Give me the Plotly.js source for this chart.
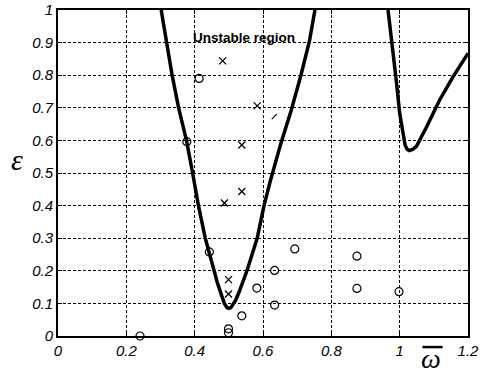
<!DOCTYPE html>
<html>
<head>
<meta charset="utf-8">
<script src="https://cdn.plot.ly/plotly-3.0.1.min.js"></script>
<style>html,body{margin:0;padding:0;background:#fff;}#chart{width:480px;height:374px;}</style>
</head>
<body>
<div id="chart"></div>
<script>
// Stability boundary curves
var curve1X = [0.302,0.318,0.334,0.353,0.376,0.394,0.411,0.431,0.455,0.466,0.477,0.487,0.494,0.500,0.506,0.512,0.520,0.530,0.553,0.583,0.603,0.620,0.652,0.682,0.711,0.736,0.752];
var curve1Y = [1.0,0.9,0.8,0.7,0.6,0.5,0.4,0.3,0.2,0.165,0.13,0.1,0.088,0.085,0.087,0.095,0.11,0.135,0.2,0.3,0.4,0.47,0.59,0.69,0.8,0.905,1.0];
var curve2X = [0.966,0.981,0.991,1.0,1.01,1.016,1.022,1.028,1.038,1.049,1.079,1.117,1.156,1.2];
var curve2Y = [1.0,0.877,0.775,0.683,0.611,0.585,0.573,0.569,0.572,0.582,0.642,0.724,0.795,0.867];
// Experimental points: stable (circles) and unstable (crosses)
var circleX = [0.24,0.377,0.413,0.443,0.499,0.499,0.538,0.582,0.634,0.634,0.693,0.875,0.875,0.998];
var circleY = [0.0,0.596,0.79,0.258,0.022,0.010,0.062,0.147,0.201,0.095,0.267,0.245,0.146,0.136];
var crossX = [0.482,0.583,0.538,0.538,0.487,0.499,0.499];
var crossY = [0.844,0.706,0.586,0.443,0.408,0.173,0.129];
var slashX = [0.633];
var slashY = [0.673];
var xTicks = [0,0.2,0.4,0.6,0.8,1,1.2];
var xTickText = ['0','0.2','0.4','0.6','0.8','1','1.2'];
var yTicks = [0,0.1,0.2,0.3,0.4,0.5,0.6,0.7,0.8,0.9,1];
var yTickText = ['0','0.1','0.2','0.3','0.4','0.5','0.6','0.7','0.8','0.9','1'];

var traces = [
  {x: curve1X, y: curve1Y, mode: 'lines', line: {color: '#000', width: 3.5, shape: 'linear'}, hoverinfo: 'skip'},
  {x: curve2X, y: curve2Y, mode: 'lines', line: {color: '#000', width: 3.5, shape: 'linear'}, hoverinfo: 'skip'},
  {x: circleX, y: circleY, mode: 'markers', cliponaxis: false, marker: {symbol: 'circle-open', size: 8, color: '#000', line: {width: 1.2, color: '#000'}}},
  {x: crossX, y: crossY, mode: 'markers', cliponaxis: false, marker: {symbol: 'x-thin-open', size: 7, color: '#000', line: {width: 1.3, color: '#000'}}},
  {x: slashX, y: slashY, mode: 'markers', marker: {symbol: 'line-ne-open', size: 5, color: '#000', line: {width: 1.2, color: '#000'}}}
];

var tickFont = {family: 'Liberation Sans, Arial, sans-serif', size: 15, color: '#000', style: 'italic'};
var layout = {
  width: 480, height: 374,
  margin: {l: 57.5, r: 11.5, t: 10, b: 38},
  paper_bgcolor: '#fff', plot_bgcolor: '#fff',
  showlegend: false,
  xaxis: {range: [0, 1.2], tickvals: xTicks, ticktext: xTickText, tickfont: tickFont,
    showgrid: true, gridcolor: '#000', gridwidth: 1, griddash: '3px,2px',
    showline: true, linecolor: '#000', linewidth: 2, mirror: 'ticks',
    ticks: 'inside', ticklen: 4, tickcolor: '#000', zeroline: false},
  yaxis: {range: [0, 1], tickvals: yTicks, ticktext: yTickText, tickfont: tickFont,
    showgrid: true, gridcolor: '#000', gridwidth: 1, griddash: '3px,2px',
    showline: true, linecolor: '#000', linewidth: 2, mirror: 'ticks',
    ticks: 'inside', ticklen: 4, tickcolor: '#000', zeroline: false},
  annotations: [
    {x: 0.543, y: 0.917, xref: 'x', yref: 'y', text: '<b>Unstable region</b>', showarrow: false,
     font: {family: 'Liberation Sans, Arial, sans-serif', size: 13.5, color: '#000'}, xanchor: 'center', yanchor: 'middle'},
    {x: -0.1, y: 0.54, xref: 'paper', yref: 'paper', text: 'ε', showarrow: false,
     font: {family: 'Liberation Serif, serif', size: 30, color: '#000', style: 'italic'}, xanchor: 'center', yanchor: 'middle'},
    {x: 0.91, y: -0.068, xref: 'paper', yref: 'paper', text: 'ω', showarrow: false,
     font: {family: 'Liberation Serif, serif', size: 28, color: '#000', style: 'italic'}, xanchor: 'center', yanchor: 'middle'}
  ],
  shapes: [
    {type: 'line', xref: 'paper', yref: 'paper', x0: 0.889, x1: 0.938, y0: -0.034, y1: -0.034, line: {color: '#000', width: 2.5}}
  ]
};
Plotly.newPlot('chart', traces, layout, {displayModeBar: false, staticPlot: true});
</script>
</body>
</html>
